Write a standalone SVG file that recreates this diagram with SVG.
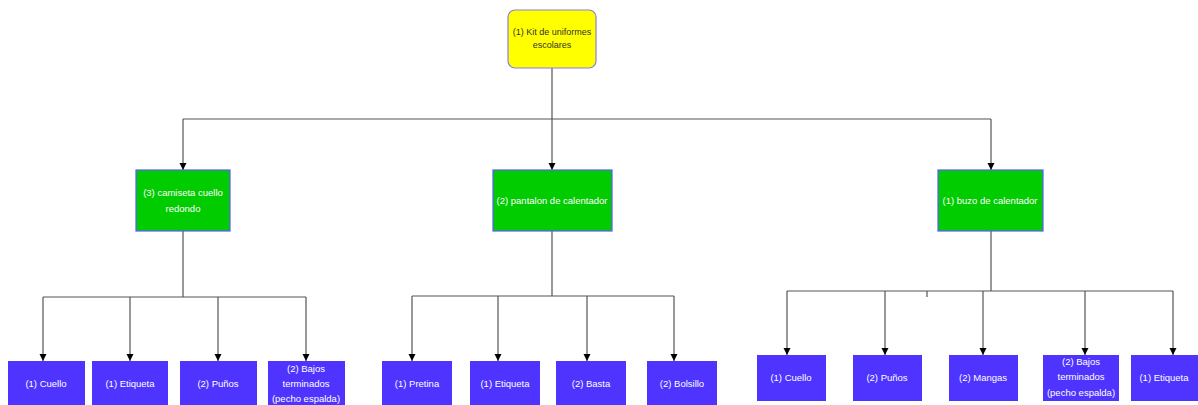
<svg xmlns="http://www.w3.org/2000/svg" width="1198" height="405" viewBox="0 0 1198 405">
<defs>
<marker id="ah" markerWidth="8" markerHeight="8" refX="7" refY="4" orient="auto" markerUnits="userSpaceOnUse">
<path d="M0,0.5 L7,4 L0,7.5 Z" fill="#000"/>
</marker>
<style>
.ln{fill:none;stroke:#555;stroke-width:1.2}
.ar{fill:none;stroke:#555;stroke-width:1.2;marker-end:url(#ah)}
.root{fill:#ffff00;stroke:#8c7fe0;stroke-width:1.2}
.g{fill:#00cc00;stroke:#5a5aff;stroke-width:1.2}
.b{fill:#4f33ff;stroke:none}
.t0{font-family:"Liberation Sans",Arial,sans-serif;font-size:9px;fill:#333;text-anchor:middle}
.t{font-family:"Liberation Sans",Arial,sans-serif;font-size:9.5px;fill:#fff;text-anchor:middle}
</style>
</defs>
<g id="connectors">
<path class="ln" d="M552,68 V119 M183,119 H991"/>
<path class="ar" d="M183,119 V170"/>
<path class="ar" d="M552,119 V170"/>
<path class="ar" d="M991,119 V170"/>
<path class="ln" d="M183,231 V297 M43,297 H306"/>
<path class="ar" d="M43,297 V361"/>
<path class="ar" d="M130,297 V361"/>
<path class="ar" d="M218,297 V361"/>
<path class="ar" d="M306,297 V361"/>
<path class="ln" d="M552,231 V296 M412,296 H674"/>
<path class="ar" d="M412,296 V361"/>
<path class="ar" d="M498,296 V361"/>
<path class="ar" d="M587,296 V361"/>
<path class="ar" d="M674,296 V361"/>
<path class="ln" d="M991,231 V291 M787,291 H1173 M927,291 V297"/>
<path class="ar" d="M787,291 V355"/>
<path class="ar" d="M885,291 V355"/>
<path class="ar" d="M983,291 V355"/>
<path class="ar" d="M1085,291 V355"/>
<path class="ar" d="M1173,291 V355"/>
</g>
<g id="root"><rect class="root" x="508" y="10" width="88" height="58" rx="7"/><text class="t0" x="552" y="35">(1) Kit de uniformes</text><text class="t0" x="552" y="48">escolares</text></g>
<g id="camiseta"><rect class="g" x="136" y="170" width="94" height="61"/><text class="t" x="183" y="196">(3) camiseta cuello</text><text class="t" x="183" y="212">redondo</text></g>
<g id="pantalon"><rect class="g" x="493" y="170" width="119" height="61"/><text class="t" x="552" y="204">(2) pantalon de calentador</text></g>
<g id="buzo"><rect class="g" x="938" y="170" width="105" height="61"/><text class="t" x="990" y="204">(1) buzo de calentador</text></g>
<g id="c-cuello"><rect class="b" x="8" y="361" width="77" height="44"/><text class="t" x="46" y="387">(1) Cuello</text></g>
<g id="c-etiqueta"><rect class="b" x="92" y="361" width="76" height="44"/><text class="t" x="130" y="387">(1) Etiqueta</text></g>
<g id="c-punos"><rect class="b" x="180" y="361" width="77" height="44"/><text class="t" x="218" y="387">(2) Puños</text></g>
<g id="c-bajos"><rect class="b" x="268" y="361" width="77" height="44"/><text class="t" x="306" y="372">(2) Bajos</text><text class="t" x="306" y="387">terminados</text><text class="t" x="306" y="402">(pecho espalda)</text></g>
<g id="p-pretina"><rect class="b" x="382" y="361" width="70" height="44"/><text class="t" x="417" y="387">(1) Pretina</text></g>
<g id="p-etiqueta"><rect class="b" x="470" y="361" width="70" height="44"/><text class="t" x="505" y="387">(1) Etiqueta</text></g>
<g id="p-basta"><rect class="b" x="556" y="361" width="70" height="44"/><text class="t" x="591" y="387">(2) Basta</text></g>
<g id="p-bolsillo"><rect class="b" x="647" y="361" width="70" height="44"/><text class="t" x="682" y="387">(2) Bolsillo</text></g>
<g id="b-cuello"><rect class="b" x="757" y="355" width="69" height="46"/><text class="t" x="791" y="381">(1) Cuello</text></g>
<g id="b-punos"><rect class="b" x="853" y="355" width="69" height="46"/><text class="t" x="887" y="381">(2) Puños</text></g>
<g id="b-mangas"><rect class="b" x="949" y="355" width="69" height="46"/><text class="t" x="983" y="381">(2) Mangas</text></g>
<g id="b-bajos"><rect class="b" x="1043" y="355" width="76" height="46"/><text class="t" x="1081" y="365">(2) Bajos</text><text class="t" x="1081" y="380">terminados</text><text class="t" x="1081" y="396">(pecho espalda)</text></g>
<g id="b-etiqueta"><rect class="b" x="1131" y="355" width="67" height="46"/><text class="t" x="1164" y="381">(1) Etiqueta</text></g>
</svg>
